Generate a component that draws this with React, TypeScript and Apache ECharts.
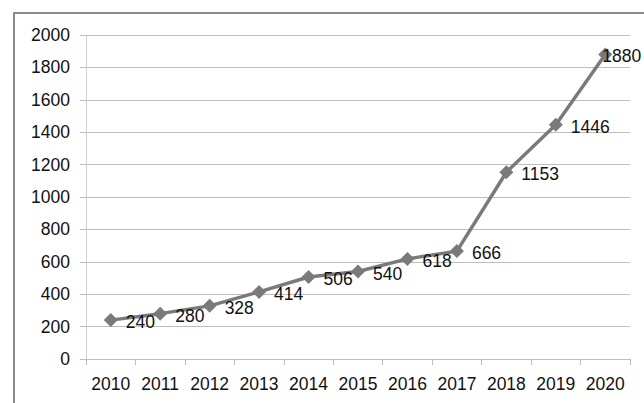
import React, { useEffect, useRef } from "react";
import * as echarts from "echarts";

const years = ["2010", "2011", "2012", "2013", "2014", "2015", "2016", "2017", "2018", "2019", "2020"];
const values = [240, 280, 328, 414, 506, 540, 618, 666, 1153, 1446, 1880];

export default function App() {
  const ref = useRef<HTMLDivElement>(null);
  useEffect(() => {
    const chart = echarts.init(ref.current!, null, { renderer: "svg" });
    const font = "'Liberation Sans', Arial, sans-serif";
    chart.setOption({
      animation: false,
      backgroundColor: "#ffffff",
      graphic: [
        {
          type: "rect",
          shape: { x: 14, y: 13, width: 700, height: 450 },
          style: { fill: "none", stroke: "#8a8a8a", lineWidth: 2 },
          silent: true,
        },
      ],
      grid: { left: 86, right: 14, top: 35, bottom: 44 },
      xAxis: {
        type: "category",
        data: years,
        boundaryGap: true,
        axisLine: { lineStyle: { color: "#bdbdbd", width: 1 } },
        axisTick: { show: true, alignWithLabel: false, interval: 0, length: 6, lineStyle: { color: "#bdbdbd" } },
        axisLabel: { color: "#111", fontSize: 17.5, fontFamily: font, margin: 16, interval: 0, hideOverlap: false },
      },
      yAxis: {
        type: "value",
        min: 0,
        max: 2000,
        interval: 200,
        axisLine: { show: true, lineStyle: { color: "#cfcfcf", width: 1 } },
        axisTick: { show: true, length: 6, lineStyle: { color: "#bdbdbd" } },
        axisLabel: { color: "#111", fontSize: 17.5, fontFamily: font, margin: 16, formatter: (v: number) => String(v) },
        splitLine: { lineStyle: { color: "#bdbdbd", width: 1 } },
      },
      series: [
        {
          type: "line",
          data: values.map((v, i) =>
            i === values.length - 1
              ? { value: v, label: { position: "right", distance: 0, offset: [-10, 2] } }
              : v
          ),
          symbol: "diamond",
          symbolSize: 14,
          lineStyle: { color: "#7a7a7a", width: 3.5 },
          itemStyle: { color: "#7a7a7a" },
          label: {
            show: true,
            position: "right",
            distance: 8,
            offset: [0, 2],
            color: "#111",
            fontSize: 17.5,
            fontFamily: font,
          },
        },
      ],
    });
    return () => chart.dispose();
  }, []);
  return (
    <div
      ref={ref}
      style={{ position: "absolute", left: 0, top: 0, width: 644, height: 403 }}
    />
  );
}
